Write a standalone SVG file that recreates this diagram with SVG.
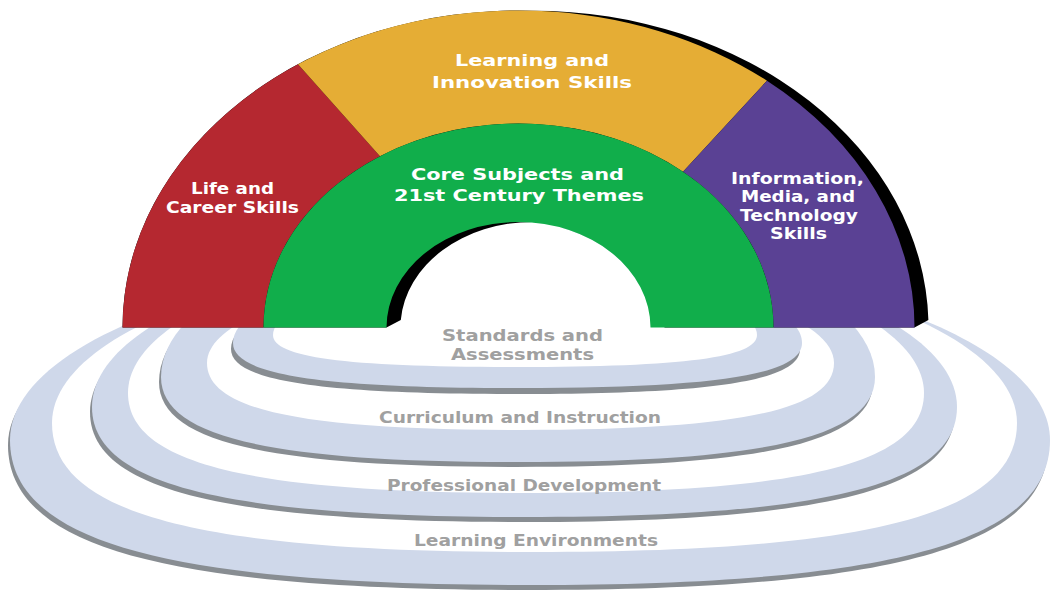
<svg xmlns="http://www.w3.org/2000/svg" width="1057" height="594" viewBox="0 0 1057 594">
<style>
.band{fill:#CFD8EA}
.gap{fill:#FFFFFF}
.sh{fill:#888D92}
.lbl{font-family:"DejaVu Sans","Verdana","Liberation Sans",sans-serif;font-weight:bold;font-size:16px}
.w{fill:#FFFFFF}
.g{fill:#A0A0A0}
</style>
<rect x="0" y="0" width="1057" height="594" fill="#FFFFFF"/>
<g id="rings">
  <g id="ring-learning-environments">
    <path class="sh" transform="translate(-2,5)" d="M10,440 C10,541.5 166,585 530,585 C894,585 1050,541.5 1050,440 C1050,338.8 816,256 530,256 C244,256 10,338.8 10,440Z"/>
    <path class="band" d="M10,440 C10,541.5 166,585 530,585 C894,585 1050,541.5 1050,440 C1050,338.8 816,256 530,256 C244,256 10,338.8 10,440Z"/>
    <path class="gap" d="M52,423 C52,513.3 196.8,552 534.5,552 C872.2,552 1017,513.3 1017,423 C1017,329.5 799.9,253 534.5,253 C269.1,253 52,329.5 52,423Z"/>
  </g>
  <g id="ring-professional-development">
    <path class="sh" transform="translate(-2,5)" d="M92,407 C92,484 221.8,517 524.5,517 C827.3,517 957,484 957,407 C957,319 762.4,247 524.5,247 C286.6,247 92,319 92,407Z"/>
    <path class="band" d="M92,407 C92,484 221.8,517 524.5,517 C827.3,517 957,484 957,407 C957,319 762.4,247 524.5,247 C286.6,247 92,319 92,407Z"/>
    <path class="gap" d="M128,393 C128,463 247.4,493 526,493 C804.6,493 924,463 924,393 C924,313.3 744.9,248 526,248 C307.1,248 128,313.3 128,393Z"/>
  </g>
  <g id="ring-curriculum-instruction">
    <path class="sh" transform="translate(-2,5)" d="M161,377 C161,436.5 268.1,462 518,462 C767.9,462 875,436.5 875,377 C875,294.5 714.4,227 518,227 C321.7,227 161,294.5 161,377Z"/>
    <path class="band" d="M161,377 C161,436.5 268.1,462 518,462 C767.9,462 875,436.5 875,377 C875,294.5 714.4,227 518,227 C321.7,227 161,294.5 161,377Z"/>
    <path class="gap" d="M207,363 C207,409.9 301.1,430 520.5,430 C740,430 834,409.9 834,363 C834,313.5 692.9,273 520.5,273 C348.1,273 207,313.5 207,363Z"/>
  </g>
  <g id="ring-standards-assessments">
    <path class="sh" transform="translate(-2,6)" d="M233,343 C233,374.5 318.4,388 517.5,388 C716.7,388 802,374.5 802,343 C802,299 674,263 517.5,263 C361,263 233,299 233,343Z"/>
    <path class="band" d="M233,343 C233,374.5 318.4,388 517.5,388 C716.7,388 802,374.5 802,343 C802,299 674,263 517.5,263 C361,263 233,299 233,343Z"/>
    <path class="gap" d="M273,335 C273,357.4 345.6,367 515,367 C684.4,367 757,357.4 757,335 C757,302 648.1,275 515,275 C381.9,275 273,302 273,335Z"/>
  </g>
</g>
<g id="rainbow">
  <path id="hole" fill="#FFFFFF" d="M386.5,327.5 A132,105.5 0 0 1 650.5,327.5 Z"/>
  <path id="shadow" fill="#000000" fill-rule="evenodd" d="M122.5,327.5 A396,317 0 0 1 532.5,10.7 A396,317 0 0 1 928.4,320 L914.5,327.5 Z M386.5,327.5 L400.8,320 A132,105.5 0 0 1 532.5,222 A132,105.5 0 0 1 664.5,327.5 Z"/>
  <g id="life-career">
    <path fill="#B52830" d="M122.5,327.5 A396,317 0 0 1 298,64.2 L380,156.2 A255,204 0 0 0 263.5,327.5 Z"/>
    <text class="lbl w" x="191" y="193.5" textLength="83" lengthAdjust="spacingAndGlyphs">Life and</text>
    <text class="lbl w" x="166" y="212.5" textLength="133" lengthAdjust="spacingAndGlyphs">Career Skills</text>
  </g>
  <g id="learning-innovation">
    <path fill="#E5AD35" d="M298,64.2 A396,317 0 0 1 767,80.7 L683,171.7 A255,204 0 0 0 380,156.2 Z"/>
    <text class="lbl w" x="455" y="66" textLength="154" lengthAdjust="spacingAndGlyphs">Learning and</text>
    <text class="lbl w" x="432" y="87.5" textLength="200" lengthAdjust="spacingAndGlyphs">Innovation Skills</text>
  </g>
  <g id="info-media-tech">
    <path fill="#5A4194" d="M767,80.7 A396,317 0 0 1 914.5,327.5 L773.5,327.5 A255,204 0 0 0 683,171.7 Z"/>
    <text class="lbl w" x="731" y="183.5" textLength="133" lengthAdjust="spacingAndGlyphs">Information,</text>
    <text class="lbl w" x="741" y="202" textLength="114" lengthAdjust="spacingAndGlyphs">Media, and</text>
    <text class="lbl w" x="740" y="220.5" textLength="118" lengthAdjust="spacingAndGlyphs">Technology</text>
    <text class="lbl w" x="770" y="239" textLength="57" lengthAdjust="spacingAndGlyphs">Skills</text>
  </g>
  <g id="core-subjects">
    <path fill="#11AE4B" d="M263.5,327.5 A255,204 0 0 1 773.5,327.5 L650.5,327.5 A132,105.5 0 0 0 386.5,327.5 Z"/>
    <text class="lbl w" x="411" y="180" textLength="213" lengthAdjust="spacingAndGlyphs">Core Subjects and</text>
    <text class="lbl w" x="394" y="201" textLength="250" lengthAdjust="spacingAndGlyphs">21st Century Themes</text>
  </g>
</g>
<g id="ring-labels">
  <text class="lbl g" x="442" y="340.5" textLength="161" lengthAdjust="spacingAndGlyphs">Standards and</text>
  <text class="lbl g" x="451" y="360" textLength="143" lengthAdjust="spacingAndGlyphs">Assessments</text>
  <text class="lbl g" x="379" y="422.5" textLength="282" lengthAdjust="spacingAndGlyphs">Curriculum and Instruction</text>
  <text class="lbl g" x="387" y="491" textLength="274" lengthAdjust="spacingAndGlyphs">Professional Development</text>
  <text class="lbl g" x="414" y="546" textLength="244" lengthAdjust="spacingAndGlyphs">Learning Environments</text>
</g>
<g id="connectors"/>
</svg>
